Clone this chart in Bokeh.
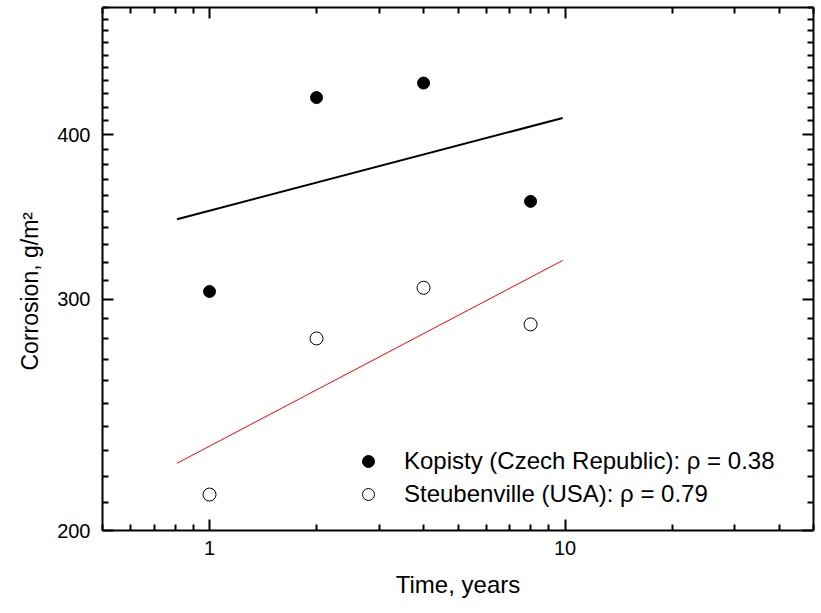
from bokeh.plotting import figure
from bokeh.models import (FixedTicker, PrintfTickFormatter, CustomJSTickFormatter, LogAxis,
                          Legend, LegendItem, Range1d, Title)
from bokeh.embed import file_html
from bokeh.resources import INLINE

# ---- data ----
years = [1, 2, 4, 8]
kopisty = [304, 427, 438, 356]
steubenville = [213, 280, 306, 287]
fit_years = [0.81, 9.85]
kopisty_fit = [345, 412]
steubenville_fit = [225, 321]

x_major = [1, 10]
x_minor = [0.5, 0.6, 0.7, 0.8, 0.9, 2, 3, 4, 5, 6, 7, 8, 9, 20, 30, 40, 50]
y_major = [200, 300, 400]
y_minor = [v for v in range(200, 501, 10) if v not in (200, 300, 400)]

kop_label = "Kopisty (Czech Republic): \u03c1 = 0.38"
steu_label = "Steubenville (USA): \u03c1 = 0.79"
x_title = "Time, years"
y_title = "Corrosion, g/m\u00b2"

FONT = "Liberation Sans"

p = figure(width=821, height=613, x_axis_type="log", y_axis_type="log",
           x_range=Range1d(0.5, 50), y_range=Range1d(200, 500),
           output_backend="svg", toolbar_location=None,
           min_border_left=102, min_border_right=8, min_border_top=7, min_border_bottom=83,
           background_fill_color="white", border_fill_color="white")
p.outline_line_color = None
p.xgrid.visible = False
p.ygrid.visible = False

top = LogAxis(formatter=CustomJSTickFormatter(code="return ''"))
right = LogAxis(formatter=CustomJSTickFormatter(code="return ''"))
p.add_layout(top, "above")
p.add_layout(right, "right")

xa = p.below[0]
ya = p.left[0]
xa.formatter = PrintfTickFormatter(format="%d")
ya.formatter = PrintfTickFormatter(format="%d")

for ax in (xa, top):
    ax.ticker = FixedTicker(ticks=x_major, minor_ticks=x_minor)
for ax in (ya, right):
    ax.ticker = FixedTicker(ticks=y_major, minor_ticks=y_minor)

for ax in (xa, ya, top, right):
    ax.axis_line_width = 2
    ax.axis_line_color = "black"
    ax.major_tick_in = 11
    ax.major_tick_out = 0
    ax.minor_tick_in = 6
    ax.minor_tick_out = 0
    ax.major_tick_line_width = 2
    ax.minor_tick_line_width = 2
    ax.major_tick_line_color = "black"
    ax.minor_tick_line_color = "black"
    ax.major_label_text_font = FONT
    ax.major_label_text_color = "black"

for ax in (top, right):
    ax.major_label_standoff = 0

xa.major_label_text_font_size = "20px"
xa.major_label_standoff = 10
xa.axis_label = x_title
xa.axis_label_text_font = FONT
xa.axis_label_text_font_size = "24px"
xa.axis_label_text_font_style = "normal"
xa.axis_label_text_color = "black"
xa.axis_label_standoff = 13

ya.major_label_text_font_size = "20px"
ya.major_label_standoff = 12

p.line(fit_years, kopisty_fit, line_color="black", line_width=2)
p.line(fit_years, steubenville_fit, line_color="red", line_width=1)

r_kop = p.scatter(years, kopisty, marker="circle", size=12,
                  fill_color="black", line_color="black", line_width=1)
r_steu = p.scatter(years, steubenville, marker="circle", size=13,
                   fill_color="white", line_color="black", line_width=1)

legend = Legend(items=[LegendItem(label=kop_label, renderers=[r_kop]),
                       LegendItem(label=steu_label, renderers=[r_steu])],
                location=(251, 21), border_line_color=None,
                background_fill_alpha=0, padding=0, margin=0, spacing=3,
                glyph_width=30, glyph_height=30, label_height=30,
                label_standoff=21, label_text_font=FONT,
                label_text_color="black", label_text_font_size="24px")
p.add_layout(legend)

# y-axis title as a left-side title, starting a little above the frame bottom
p.add_layout(Title(text=y_title, align="left", offset=160, standoff=24,
                   text_font=FONT, text_font_size="23px", text_font_style="normal",
                   text_color="black"), "left")

open("out.html", "w").write(file_html(p, INLINE))
